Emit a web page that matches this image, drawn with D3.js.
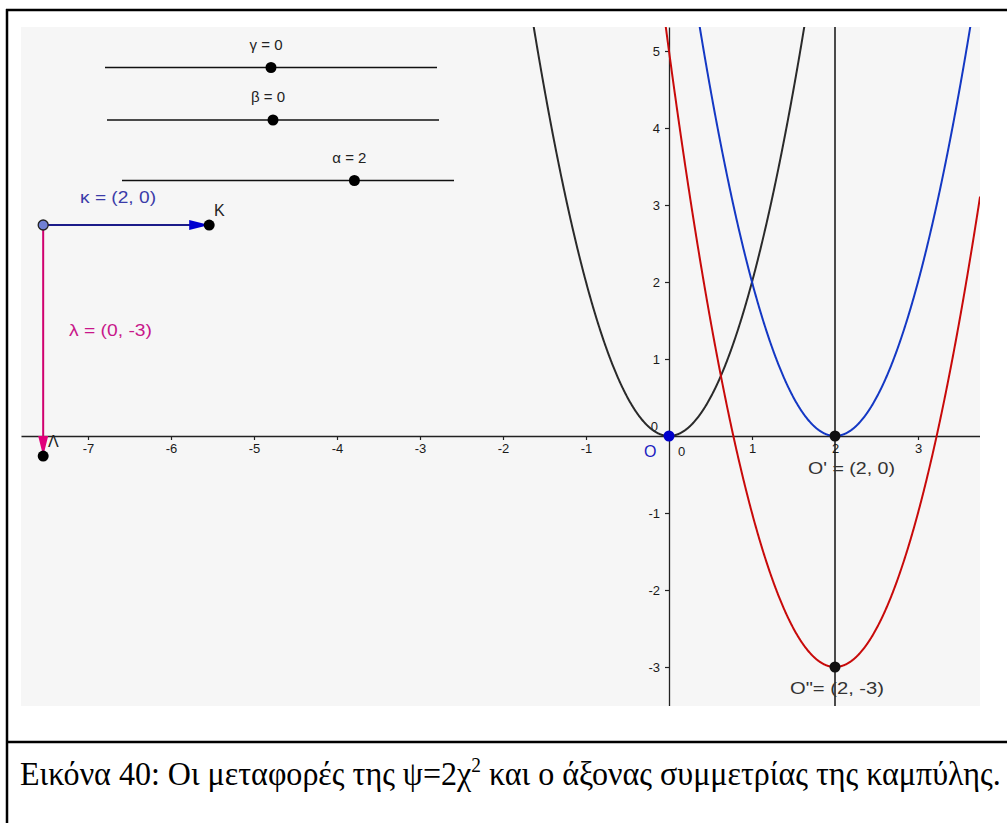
<!DOCTYPE html>
<html>
<head>
<meta charset="utf-8">
<script src="https://cdn.jsdelivr.net/npm/d3@7"></script>
<style>
  html, body { margin: 0; padding: 0; background: #ffffff; }
  svg { display: block; }
</style>
</head>
<body>
<svg id="chart" width="1007" height="823"></svg>
<script>
// ---------------- data ----------------
const xTicks = [-7, -6, -5, -4, -3, -2, -1, 1, 2, 3];
const yTicks = [-3, -2, -1, 1, 2, 3, 4, 5];
const parabolaA = 2;                       // ψ = 2χ²
const curveNames = ["f", "g", "h"];
const curveShiftX = [0, 2, 2];             // translations of ψ = 2χ²
const curveShiftY = [0, 0, -3];
const sliderNames = ["γ", "β", "α"];
const sliderValues = [0, 0, 2];
const sliderMin = -5, sliderMax = 5;
const vectorNames = ["κ", "λ"];
const vectorValues = [[2, 0], [0, -3]];
const vectorStart = [-7.54, 2.74];
const vectorEndNames = ["K", "Λ"];
const pointNames = ["O", "O'", "O\""];
const pointX = [0, 2, 2];
const pointY = [0, 0, -3];
const symmetryAxisX = 2;
const captionBefore = "Εικόνα 40: Οι μεταφορές της ψ=2χ";
const captionSup = "2";
const captionAfter = " και ο άξονας συμμετρίας της καμπύλης.";

// ---------------- layout ----------------
const svg = d3.select("#chart");
const plot = { left: 21, top: 27, right: 980, bottom: 706 };
const originPx = { x: 669, y: 436 };
const unitX = 83, unitY = 77;

const x = d3.scaleLinear()
  .domain([(plot.left - originPx.x) / unitX, (plot.right - originPx.x) / unitX])
  .range([plot.left, plot.right]);
const y = d3.scaleLinear()
  .domain([(originPx.y - plot.bottom) / unitY, (originPx.y - plot.top) / unitY])
  .range([plot.bottom, plot.top]);

// frame
svg.append("rect").attr("width", 1007).attr("height", 823).attr("fill", "#fff");
svg.append("line").attr("x1", 6).attr("x2", 1007).attr("y1", 10).attr("y2", 10)
  .attr("stroke", "#000").attr("stroke-width", 2.5);
svg.append("line").attr("x1", 7).attr("x2", 7).attr("y1", 9).attr("y2", 823)
  .attr("stroke", "#000").attr("stroke-width", 2.5);
svg.append("line").attr("x1", 6).attr("x2", 1007).attr("y1", 742).attr("y2", 742)
  .attr("stroke", "#000").attr("stroke-width", 2.5);

// plot background
svg.append("rect")
  .attr("x", plot.left).attr("y", plot.top)
  .attr("width", plot.right - plot.left).attr("height", plot.bottom - plot.top)
  .attr("fill", "#f6f6f6");

svg.append("clipPath").attr("id", "clip").append("rect")
  .attr("x", plot.left).attr("y", plot.top)
  .attr("width", plot.right - plot.left).attr("height", plot.bottom - plot.top);

const g = svg.append("g").attr("clip-path", "url(#clip)");

// axes
const tickFont = "Liberation Sans, Arial, sans-serif";
const xAxis = d3.axisBottom(x).tickValues(xTicks).tickSize(4).tickSizeOuter(0)
  .tickPadding(4).tickFormat(d => String(d));
const yAxis = d3.axisLeft(y).tickValues(yTicks).tickSize(4).tickSizeOuter(0)
  .tickPadding(5).tickFormat(d => String(d));

const gx = g.append("g").attr("transform", `translate(0,${y(0)})`).call(xAxis);
const gy = g.append("g").attr("transform", `translate(${x(0)},0)`).call(yAxis);
[gx, gy].forEach(a => {
  a.select(".domain").attr("stroke", "#222").attr("stroke-width", 1.3);
  a.selectAll(".tick line").attr("stroke", "#222").attr("stroke-width", 1.2);
  a.selectAll(".tick text").attr("fill", "#1a1a1a").attr("font-size", 13)
    .attr("font-family", tickFont);
});
// zero labels
g.append("text").attr("x", x(0) + 9).attr("y", y(0) + 20).text("0")
  .attr("font-size", 13).attr("font-family", tickFont).attr("fill", "#1a1a1a");
g.append("text").attr("x", x(0) - 11).attr("y", y(0) - 5).text("0")
  .attr("text-anchor", "end")
  .attr("font-size", 13).attr("font-family", tickFont).attr("fill", "#1a1a1a");

// axis of symmetry
g.append("line")
  .attr("x1", x(symmetryAxisX)).attr("x2", x(symmetryAxisX))
  .attr("y1", plot.top).attr("y2", plot.bottom)
  .attr("stroke", "#111").attr("stroke-width", 1.5);

// parabolas
const curveColors = ["#2a2a2a", "#1438c4", "#c80a0a"];
const xs = d3.range(x.domain()[0], x.domain()[1] + 0.005, 0.005);
const line = d3.line().x(d => x(d[0])).y(d => y(d[1]));
curveNames.forEach((name, i) => {
  const pts = xs.map(v => [v, parabolaA * (v - curveShiftX[i]) ** 2 + curveShiftY[i]])
    .filter(p => p[1] < y.domain()[1] + 1);
  g.append("path").datum(pts)
    .attr("d", line)
    .attr("fill", "none")
    .attr("stroke", curveColors[i])
    .attr("stroke-width", 2);
});

// sliders
const sliderLeft = [105, 107, 122];
const sliderRowY = [67.5, 120, 180.5];
const sliderLabelY = [50, 102, 163];
const sliderWidth = 332;
const labelFont = "Liberation Sans, Arial, sans-serif";
sliderNames.forEach((name, i) => {
  const s = d3.scaleLinear().domain([sliderMin, sliderMax])
    .range([sliderLeft[i], sliderLeft[i] + sliderWidth]);
  svg.append("line").attr("x1", s(sliderMin)).attr("x2", s(sliderMax))
    .attr("y1", sliderRowY[i]).attr("y2", sliderRowY[i])
    .attr("stroke", "#111").attr("stroke-width", 1.5);
  svg.append("circle").attr("cx", s(sliderValues[i])).attr("cy", sliderRowY[i])
    .attr("r", 5.5).attr("fill", "#000");
  svg.append("text").attr("x", s(sliderValues[i]) - 5).attr("y", sliderLabelY[i])
    .attr("text-anchor", "middle")
    .attr("font-size", 15).attr("font-family", labelFont).attr("fill", "#222")
    .text(`${name} = ${sliderValues[i]}`);
});

// vectors
const vectorColors = ["#1c1c8a", "#d0006e"];
const arrowColors = ["#0000d0", "#e0007a"];
const vectorLabelColors = ["#3b3ba8", "#c8168a"];
const vectorLabelPos = [[80, 203], [69, 336]];
const vectorLabelWidth = [76, 83];
const sx = x(vectorStart[0]), sy = y(vectorStart[1]);
vectorNames.forEach((name, i) => {
  const ex = x(vectorStart[0] + vectorValues[i][0]);
  const ey = y(vectorStart[1] + vectorValues[i][1]);
  svg.append("line").attr("x1", sx).attr("y1", sy).attr("x2", ex).attr("y2", ey)
    .attr("stroke", vectorColors[i]).attr("stroke-width", 2);
  const ang = Math.atan2(ey - sy, ex - sx);
  const L = 20, W = 5;
  const bx = ex - L * Math.cos(ang), by = ey - L * Math.sin(ang);
  const px = -Math.sin(ang) * W, py = Math.cos(ang) * W;
  svg.append("path")
    .attr("d", `M${ex},${ey}L${bx + px},${by + py}L${bx - px},${by - py}Z`)
    .attr("fill", arrowColors[i]);
  svg.append("circle").attr("cx", ex).attr("cy", ey).attr("r", 5.5).attr("fill", "#000");
  svg.append("text").attr("x", vectorLabelPos[i][0]).attr("y", vectorLabelPos[i][1])
    .attr("font-size", 16).attr("font-family", labelFont).attr("fill", vectorLabelColors[i])
    .attr("textLength", vectorLabelWidth[i]).attr("lengthAdjust", "spacingAndGlyphs")
    .text(`${name} = (${vectorValues[i][0]}, ${vectorValues[i][1]})`);
});
svg.append("circle").attr("cx", sx).attr("cy", sy).attr("r", 5)
  .attr("fill", "#7080d4").attr("stroke", "#222").attr("stroke-width", 1.3);
// end point labels
const endLabelPos = [[214, 216], [48, 447]];
vectorEndNames.forEach((n, i) => {
  svg.append("text").attr("x", endLabelPos[i][0]).attr("y", endLabelPos[i][1])
    .attr("font-size", 16).attr("font-family", labelFont).attr("fill", "#222").text(n);
});

// points
pointNames.forEach((n, i) => {
  svg.append("circle").attr("cx", x(pointX[i])).attr("cy", y(pointY[i]))
    .attr("r", 5.5).attr("fill", i === 0 ? "#0000cc" : "#111");
});
svg.append("text").attr("x", 644).attr("y", 457).text(pointNames[0])
  .attr("font-size", 16).attr("font-family", labelFont).attr("fill", "#2020c0");
svg.append("text").attr("x", 808).attr("y", 474)
  .text(`${pointNames[1]} = (${pointX[1]}, ${pointY[1]})`)
  .attr("font-size", 17).attr("font-family", labelFont).attr("fill", "#333")
  .attr("textLength", 87).attr("lengthAdjust", "spacingAndGlyphs");
svg.append("text").attr("x", 790).attr("y", 694)
  .text(`${pointNames[2]}= (${pointX[2]}, ${pointY[2]})`)
  .attr("font-size", 17).attr("font-family", labelFont).attr("fill", "#333")
  .attr("textLength", 94).attr("lengthAdjust", "spacingAndGlyphs");

// caption
const cap = svg.append("text").attr("x", 0).attr("y", 0)
  .attr("font-family", "Liberation Serif, 'Times New Roman', serif")
  .attr("font-size", 33).attr("fill", "#000");
cap.append("tspan").text(captionBefore);
cap.append("tspan").attr("dy", -13).attr("font-size", 20).text(captionSup);
cap.append("tspan").attr("dy", 13).text(captionAfter);
const w = cap.node().getComputedTextLength();
const targetW = 1001 - 20;
cap.attr("transform", `translate(20,785) scale(${targetW / w},1)`);
</script>
</body>
</html>
